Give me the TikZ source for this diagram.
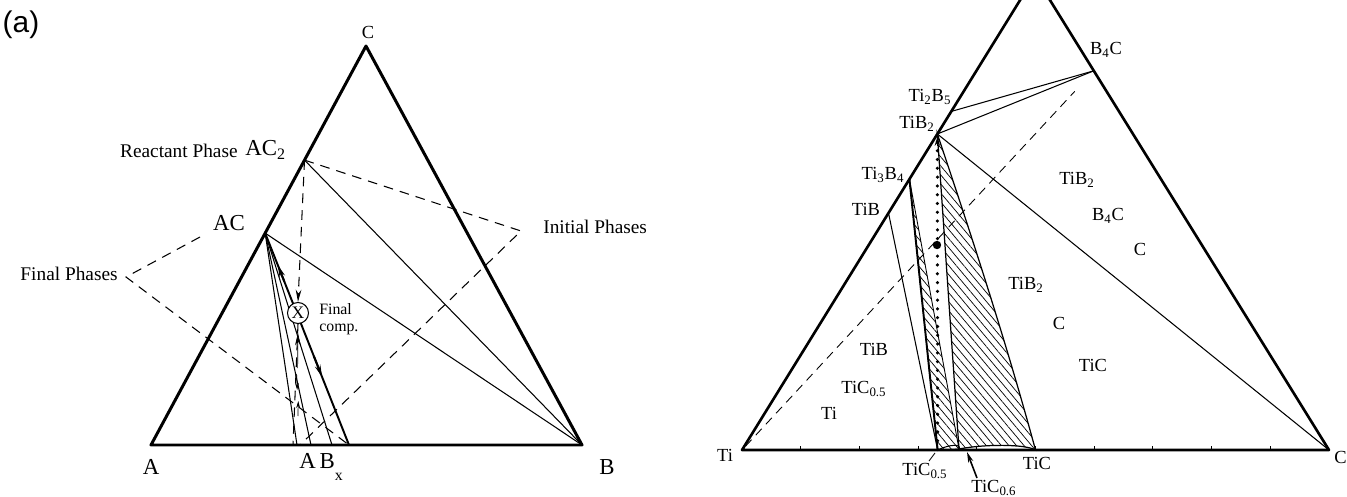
\documentclass[tikz,border=0pt]{standalone}
\usepackage{fontspec}
\setmainfont{Liberation Serif}
\newfontfamily\tagfont{Liberation Sans}
\usetikzlibrary{arrows.meta, positioning, calc, patterns.meta}

\tikzset{
  frame/.style={line width=1.7pt, line join=round},
  tie/.style={line width=0.6pt},
  guide/.style={line width=0.6pt, dash pattern=on 5.5pt off 4pt},
  fineguide/.style={line width=0.5pt, dash pattern=on 5pt off 3.5pt},
  hatch/.style={pattern={Lines[angle=-50,distance=3.3pt,line width=0.4pt]}},
  lbl/.style={inner sep=0pt, font=\fontsize{11}{12}\selectfont},
  biglbl/.style={inner sep=0pt, font=\fontsize{13}{14}\selectfont},
  phaselbl/.style={inner sep=0pt, font=\fontsize{10.5}{11}\selectfont},
  bigtip/.style={-{Stealth[length=7pt,width=3.2pt]}},
  smalltip/.style={-{Stealth[length=4pt,width=2.2pt]}},
}

\begin{document}
\begin{tikzpicture}[x=0.02cm,y=-0.02cm]
\clip (0,0) rectangle (1347,497);

% (a) generic ternary A-B-C
\begin{scope}
  \coordinate (A) at (151,445);
  \coordinate (B) at (582,445);
  \coordinate (C) at (366,46);
  \coordinate (AC) at ($(A)!0.531!(C)$);
  \coordinate (AC2) at ($(A)!0.714!(C)$);
  \coordinate (P1) at (297,445);
  \coordinate (P2) at (311,445);
  \coordinate (P3) at (332,445);
  \coordinate (P4) at (349,445);
  \coordinate (Q) at (293,445);
  \coordinate (Q2) at (300,445);
  \coordinate (finaltip) at (126,277);
  \coordinate (inittip) at (521,231);
  \coordinate (aclead) at (200,237);

  \draw[tie] (AC2) -- (B);
  \draw[tie] (AC) -- (B);
  \draw[tie] (AC) -- (P1);
  \draw[tie] (AC) -- (P2);
  \draw[tie] (AC) -- (P3);
  \draw[line width=1.1pt] (AC) -- (P4);
  \draw[frame] (A) -- (B) -- (C) -- cycle;

  \draw[guide] (aclead) -- (finaltip) -- (P4);
  \draw[guide] (AC2) -- (inittip) -- (Q2);

  \node[circle, draw, line width=0.6pt, fill=white, inner sep=0pt, minimum size=0.42cm,
        font=\fontsize{10}{10}\selectfont] (X) at (298,313) {X};
  \draw[guide, bigtip] (AC2) -- (X.north);
  \draw[guide] (X.south) -- (Q);
  \draw[bigtip] (297.6,368) -- (298,333);
  \draw[bigtip, line width=1.1pt] ($(AC)!0.23!(P4)$) -- ($(AC)!0.15!(P4)$);
  \draw[bigtip, line width=1.1pt] ($(AC)!0.58!(P4)$) -- ($(AC)!0.68!(P4)$);
  \draw[smalltip] (296.6,374) -- (297.2,390);
  \draw[smalltip] (297.9,416) -- (298.3,401);

  \node[inner sep=0pt, font=\tagfont\fontsize{17}{17}\selectfont] (tag) at (21,25) {(a)};
  \node[phaselbl] (Clbl) at (368,32) {C};
  \node[biglbl] (Albl) at (151,467) {A};
  \node[biglbl] (Blbl) at (607,467) {B};
  \node[biglbl, anchor=west] (ABxlbl) at (299,467) {A\,B\raisebox{-1.1ex}{\fontsize{9}{9}\selectfont x}};
  \node[biglbl] (AClbl) at (229,223) {AC};
  \node[biglbl, anchor=west] (AC2lbl) at (245,150) {AC\textsubscript{2}};
  \node[lbl, anchor=east] (reactlbl) at (238,151) {Reactant Phase};
  \node[lbl, anchor=east] (finallbl) at (118,274) {Final Phases};
  \node[lbl, anchor=west] (initlbl) at (543,227) {Initial Phases};
  \node[inner sep=0pt, anchor=west, align=left, font=\fontsize{9}{10}\selectfont] (complbl) at (319,319) {Final\\comp.};
\end{scope}

% Ti-B-C
\begin{scope}
  \coordinate (Ti) at (742,450);
  \coordinate (Cr) at (1329,450);
  \coordinate (Bt) at (1035,-24);
  \coordinate (TiB) at ($(Ti)!0.5!(Bt)$);
  \coordinate (Ti3B4) at ($(Ti)!0.5714!(Bt)$);
  \coordinate (TiB2) at ($(Ti)!0.6667!(Bt)$);
  \coordinate (Ti2B5) at ($(Ti)!0.7143!(Bt)$);
  \coordinate (B4C) at ($(Bt)!0.2!(Cr)$);
  \coordinate (TiC05) at ($(Ti)!0.3333!(Cr)$);
  \coordinate (M) at (959,449);
  \coordinate (TiC) at ($(Ti)!0.5!(Cr)$);

  \draw[hatch, line width=0.5pt] (Ti3B4) -- (TiC05) -- (M) -- cycle;
  \draw[hatch, line width=0.7pt] (TiB2) -- (M) .. controls (985,444) and (1025,444) .. (TiC)
        .. controls (1007,345) and (973,240) .. (TiB2) -- cycle;
  \draw[line width=1.1pt] (Ti3B4) -- (TiC05);
  \draw[line width=0.6pt] (TiC05) .. controls (950,444) and (962,444) .. (M);
  \draw[tie] (TiB) -- (TiC05);
  \draw[tie] (Ti2B5) -- (B4C);
  \draw[tie] (TiB2) -- (B4C);
  \draw[tie] (TiB2) -- (Cr);
  \draw[fineguide, shorten <=3pt, shorten >=16pt] (Ti) -- (B4C);
  \draw[line width=2pt, line cap=round, dash pattern=on 0pt off 5pt] ($(TiB2)+(0,8)$) -- (TiC05);
  \draw[-{Stealth[length=5pt,width=3pt]}, line width=0.8pt] ($(TiB2)+(0,12)$) -- ($(TiB2)+(0,3)$);
  \draw[frame, line width=1.5pt] (Ti) -- (Cr) -- (Bt) -- cycle;
  \foreach \f in {1,...,9} {
    \draw[line width=0.6pt] ($(Ti)!\f/10!(Cr)$) -- ++(0,-4);
  }
  \fill (937,245) circle (4.2);

  \draw[-{Stealth[length=6pt,width=3pt]}, line width=0.9pt] (977,478) -- (967,452);
  \draw[line width=0.5pt] (929,461) -- (935,453);

  \node[phaselbl] (Tilbl) at (725,455) {Ti};
  \node[phaselbl, anchor=east] (Crlbl) at (1347,457) {C};
  \node[phaselbl] (TiC05lbl) at (925,471) {TiC\textsubscript{0.5}};
  \node[phaselbl] (TiC06lbl) at (994,488) {TiC\textsubscript{0.6}};
  \node[phaselbl] (TiClbl) at (1037,463) {TiC};
  \node[phaselbl] (TiBlbl) at (866,209) {TiB};
  \node[phaselbl] (Ti3B4lbl) at (883,175) {Ti\textsubscript{3}B\textsubscript{4}};
  \node[phaselbl] (TiB2lbl) at (917,124) {TiB\textsubscript{2}};
  \node[phaselbl] (Ti2B5lbl) at (930,97) {Ti\textsubscript{2}B\textsubscript{5}};
  \node[phaselbl] (B4Clbl) at (1106,50) {B\textsubscript{4}C};
  \node[phaselbl] (r1a) at (1077,180) {TiB\textsubscript{2}};
  \node[phaselbl] (r1b) at (1108,216) {B\textsubscript{4}C};
  \node[phaselbl] (r1c) at (1140,249) {C};
  \node[phaselbl] (r2a) at (1026,285) {TiB\textsubscript{2}};
  \node[phaselbl] (r2b) at (1059,323) {C};
  \node[phaselbl] (r2c) at (1093,365) {TiC};
  \node[phaselbl] (r3a) at (874,349) {TiB};
  \node[phaselbl] (r3b) at (864,389) {TiC\textsubscript{0.5}};
  \node[phaselbl] (r3c) at (829,413) {Ti};
\end{scope}
\end{tikzpicture}
\end{document}
